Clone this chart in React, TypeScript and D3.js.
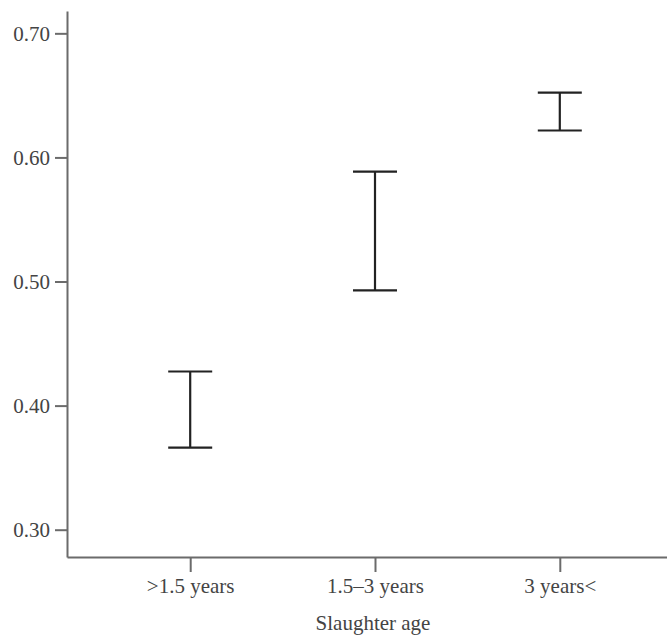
import * as d3 from 'd3';
import React, { useRef, useEffect } from 'react';

// data
const categories = ['>1.5 years', '1.5\u20133 years', '3 years<'];
const upper = [0.4275, 0.5886, 0.6523];
const lower = [0.3662, 0.4928, 0.6217];
const yTicks = [0.3, 0.4, 0.5, 0.6, 0.7];

function ErrorBarChart({ width, height }: { width: number; height: number }) {
    const ref = useRef<SVGSVGElement>(null);

    useEffect(() => {
        draw();
    }, []);

    const draw = () => {
        const svg = d3.select(ref.current);
        svg.selectAll('*').remove();

        const left = 67;
        const top = 11;
        const bottom = 557;

        // Scale
        const xScale = d3.scalePoint<string>()
            .domain(categories)
            .range([left, 683])
            .padding(2 / 3);

        const yScale = d3.scaleLinear()
            .domain([0.278, 0.718])
            .range([bottom, top]);

        const font = '"Liberation Serif", "Times New Roman", serif';

        // DRAW AXES
        const yAxis = svg.append('g')
            .attr('transform', `translate(${left}, 0)`)
            .call(d3.axisLeft(yScale)
                .tickValues(yTicks)
                .tickFormat(d3.format('.2f'))
                .tickSize(12)
                .tickSizeOuter(0)
                .tickPadding(5));

        const xAxis = svg.append('g')
            .attr('transform', `translate(0, ${bottom})`)
            .call(d3.axisBottom(xScale)
                .tickSize(15)
                .tickSizeOuter(0)
                .tickPadding(6));

        [xAxis, yAxis].forEach(ax => {
            ax.selectAll('path, line')
                .attr('stroke', '#6b6b6b')
                .attr('stroke-width', 2);
            ax.selectAll('text')
                .attr('fill', '#444')
                .style('font-family', font)
                .style('font-size', '21px');
        });

        svg.append('text')
            .attr('x', 373)
            .attr('y', 630)
            .attr('text-anchor', 'middle')
            .attr('fill', '#444')
            .style('font-family', font)
            .style('font-size', '21px')
            .text('Slaughter age');

        // DRAW ERROR BARS
        const capHalf = 22;
        const bars = svg.selectAll('.err')
            .data(categories)
            .enter()
            .append('g')
            .attr('class', 'err')
            .attr('stroke', '#222')
            .attr('stroke-width', 2.2);

        bars.append('line')
            .attr('x1', d => xScale(d)!)
            .attr('x2', d => xScale(d)!)
            .attr('y1', (d, i) => yScale(upper[i]))
            .attr('y2', (d, i) => yScale(lower[i]));

        bars.append('line')
            .attr('x1', d => xScale(d)! - capHalf)
            .attr('x2', d => xScale(d)! + capHalf)
            .attr('y1', (d, i) => yScale(upper[i]))
            .attr('y2', (d, i) => yScale(upper[i]));

        bars.append('line')
            .attr('x1', d => xScale(d)! - capHalf)
            .attr('x2', d => xScale(d)! + capHalf)
            .attr('y1', (d, i) => yScale(lower[i]))
            .attr('y2', (d, i) => yScale(lower[i]));
    };

    return (
        <svg ref={ref} width={width} height={height}
            style={{ position: 'absolute', left: 0, top: 0, background: '#fff' }} />
    );
}

export default function App() {
    return <ErrorBarChart width={667} height={637} />;
}
